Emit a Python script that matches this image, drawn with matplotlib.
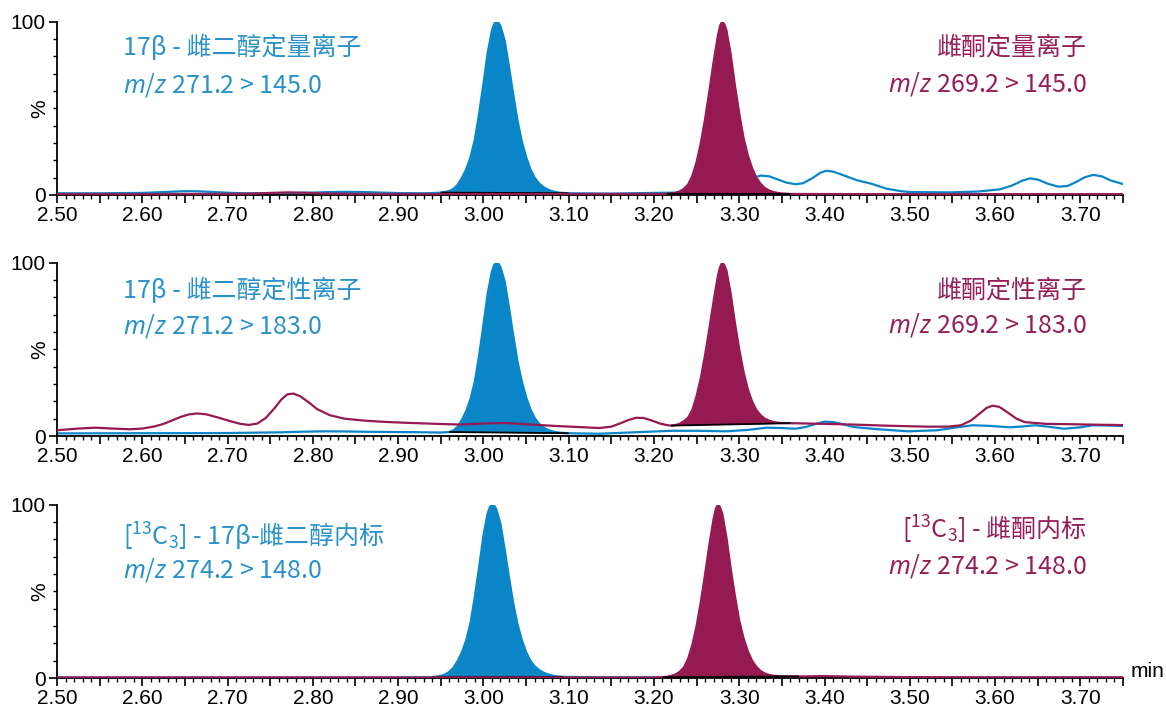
import numpy as np
import matplotlib
matplotlib.use('Agg')
import matplotlib.pyplot as plt
from matplotlib.ticker import MultipleLocator, FixedLocator, FuncFormatter

plt.rcParams['font.family'] = ['Liberation Sans', 'DejaVu Sans']
plt.rcParams['mathtext.fontset'] = 'custom'
plt.rcParams['mathtext.rm'] = 'Noto Sans CJK SC'
plt.rcParams['mathtext.it'] = 'Noto Sans:italic'
plt.rcParams['mathtext.bf'] = 'Noto Sans CJK SC:bold'

BLUE = '#0a86c8'
MAROON = '#961a52'
BLUE_TXT = '#2a92c8'
MAROON_TXT = '#951f58'

# ---------------- Panel 1: quantifier ions ----------------
p1_blue_t = [2.50, 2.55, 2.60, 2.63, 2.645, 2.655, 2.667, 2.68, 2.70, 2.72, 2.75, 2.77, 2.80, 2.82, 2.84,
             2.86, 2.88, 2.90, 2.93, 2.945, 2.950, 2.955, 2.960, 2.965, 2.970, 2.975, 2.980, 2.985, 2.990,
             2.995, 3.000, 3.005, 3.010, 3.0125, 3.015, 3.0175, 3.020, 3.025, 3.030, 3.035, 3.040, 3.045,
             3.050, 3.055, 3.060, 3.065, 3.070, 3.075, 3.080, 3.085, 3.090, 3.100, 3.15, 3.20, 3.23, 3.26,
             3.29, 3.31, 3.325, 3.335, 3.345, 3.355, 3.366, 3.375, 3.385, 3.395, 3.402, 3.41, 3.42, 3.438,
             3.455, 3.473, 3.49, 3.50, 3.547, 3.58, 3.606, 3.62, 3.632, 3.641, 3.65, 3.662, 3.674, 3.685,
             3.695, 3.705, 3.715, 3.725, 3.735, 3.75]
p1_blue_y = [1.0, 1.0, 1.2, 1.8, 2.1, 2.2, 2.1, 1.8, 1.3, 1.0, 1.0, 1.1, 1.4, 1.7, 1.8,
             1.7, 1.4, 1.1, 1.0, 1.2, 1.4, 1.7, 2.3, 3.5, 6.0, 10.0, 15.0, 22.0, 32.0,
             47.0, 64.0, 82.0, 95.0, 98.5, 100.0, 99.5, 97.5, 89.0, 74.0, 58.0, 43.0, 31.0,
             22.0, 15.0, 10.0, 6.8, 4.7, 3.2, 2.3, 1.7, 1.3, 1.0, 0.8, 1.2, 1.4, 2.5,
             5.0, 9.0, 11.2, 10.8, 9.0, 7.2, 6.2, 6.8, 9.5, 12.8, 14.0, 13.5, 11.8, 8.5,
             6.5, 3.6, 2.2, 1.7, 1.5, 2.0, 3.3, 5.5, 8.3, 9.6, 8.9, 6.5, 4.8, 5.2,
             7.5, 10.2, 11.6, 10.8, 8.5, 6.3]
p1_maroon_t = [2.50, 2.60, 2.70, 2.73, 2.75, 2.77, 2.79, 2.81, 2.85, 2.95, 3.05, 3.15, 3.20, 3.215,
               3.220, 3.225, 3.230, 3.235, 3.240, 3.245, 3.250, 3.255, 3.260, 3.265, 3.270, 3.275,
               3.2775, 3.280, 3.2825, 3.285, 3.290, 3.295, 3.300, 3.305, 3.310, 3.315, 3.320, 3.325,
               3.330, 3.335, 3.340, 3.345, 3.350, 3.360, 3.45, 3.60, 3.75]
p1_maroon_y = [0.5, 0.5, 0.6, 0.8, 1.2, 1.5, 1.3, 0.9, 0.6, 0.5, 0.5, 0.6, 0.6, 0.7,
               0.9, 1.2, 2.0, 3.5, 6.0, 11.0, 19.0, 30.0, 44.0, 60.0, 77.0, 92.0,
               97.5, 100.0, 98.5, 95.0, 81.0, 63.0, 47.0, 33.0, 23.0, 15.5, 10.0, 6.5,
               4.0, 2.6, 1.7, 1.2, 0.9, 0.6, 0.5, 0.5, 0.5]
p1_blue_window = [2.950, 3.100]
p1_maroon_window = [3.215, 3.360]

# ---------------- Panel 2: qualifier ions ----------------
p2_blue_t = [2.50, 2.60, 2.70, 2.76, 2.79, 2.815, 2.84, 2.87, 2.92, 2.95, 2.960, 2.965, 2.970, 2.975,
             2.980, 2.985, 2.990, 2.995, 3.000, 3.005, 3.010, 3.0125, 3.015, 3.0175, 3.020, 3.025,
             3.030, 3.035, 3.040, 3.045, 3.050, 3.055, 3.060, 3.065, 3.070, 3.075, 3.080, 3.085, 3.090,
             3.10, 3.136, 3.18, 3.221, 3.25, 3.285, 3.31, 3.332, 3.35, 3.366, 3.378, 3.39, 3.40, 3.41,
             3.42, 3.434, 3.46, 3.498, 3.532, 3.555, 3.574, 3.595, 3.617, 3.632, 3.647, 3.665, 3.681,
             3.70, 3.715, 3.735, 3.75]
p2_blue_y = [1.5, 1.6, 1.7, 2.1, 2.5, 2.7, 2.6, 2.4, 2.2, 2.0, 2.3, 3.2, 5.5, 9.5,
             14.5, 21.5, 31.5, 46.5, 64.0, 82.0, 95.0, 98.5, 100.0, 99.5, 97.5, 89.0,
             74.0, 58.0, 43.0, 31.5, 22.5, 15.5, 10.5, 7.2, 5.1, 3.6, 2.8, 2.2, 1.9,
             1.6, 1.3, 2.2, 3.0, 3.0, 2.7, 3.5, 4.8, 4.6, 4.2, 5.2, 7.0, 8.3, 8.0,
             7.0, 5.2, 4.0, 2.7, 3.3, 5.0, 6.2, 5.8, 5.0, 5.5, 6.2, 5.2, 4.2,
             5.0, 6.2, 6.0, 5.8]
p2_maroon_t = [2.50, 2.525, 2.545, 2.565, 2.585, 2.60, 2.615, 2.625, 2.635, 2.645, 2.655, 2.665, 2.675,
               2.69, 2.705, 2.715, 2.725, 2.735, 2.745, 2.755, 2.763, 2.77, 2.777, 2.785, 2.795, 2.805,
               2.82, 2.837, 2.86, 2.882, 2.91, 2.94, 2.972, 3.00, 3.026, 3.05, 3.084, 3.11, 3.136, 3.15,
               3.16, 3.17, 3.179, 3.188, 3.197, 3.207, 3.215,
               3.220, 3.225, 3.230, 3.235, 3.240, 3.245, 3.250, 3.255, 3.260, 3.265, 3.270, 3.275,
               3.2775, 3.280, 3.2825, 3.285, 3.290, 3.295, 3.300, 3.305, 3.310, 3.315, 3.320, 3.325,
               3.330, 3.335, 3.340, 3.345, 3.350, 3.36, 3.38, 3.40, 3.434, 3.47, 3.519, 3.545, 3.56,
               3.572, 3.582, 3.59, 3.597, 3.605, 3.615, 3.625, 3.635, 3.66, 3.689, 3.72, 3.75]
p2_maroon_y = [3.3, 4.3, 4.8, 4.3, 3.9, 4.3, 5.6, 7.0, 9.0, 11.0, 12.5, 13.0, 12.5,
               10.5, 8.3, 7.0, 6.4, 7.2, 10.5, 16.0, 21.0, 24.0, 24.5, 23.0, 19.5, 15.5,
               12.0, 10.0, 8.9, 8.2, 7.6, 7.1, 6.6, 7.2, 7.5, 6.8, 5.8, 5.2, 4.6, 5.4,
               7.2, 9.2, 10.5, 10.4, 9.0, 7.2, 6.3,
               6.0, 6.3, 7.0, 8.5, 10.5, 15.0, 23.0, 33.5, 47.0, 62.0, 78.0, 92.5,
               97.5, 100.0, 98.5, 95.5, 82.0, 65.0, 50.0, 37.0, 27.0, 20.0, 15.0, 12.0,
               10.0, 8.8, 8.1, 7.7, 7.5, 7.4, 7.2, 7.0, 6.6, 6.0, 5.4, 5.4, 6.2,
               9.0, 13.0, 16.2, 17.5, 16.8, 13.5, 10.0, 8.0, 7.0, 6.8, 6.5, 6.3]
p2_blue_window = [2.960, 3.100]
p2_maroon_window = [3.220, 3.360]

# ---------------- Panel 3: internal standards ----------------
p3_blue_t = [2.50, 2.70, 2.90, 2.935, 2.940, 2.945, 2.950, 2.955, 2.960, 2.965, 2.970, 2.975, 2.980,
             2.985, 2.990, 2.995, 3.000, 3.005, 3.0075, 3.010, 3.0125, 3.015, 3.020, 3.025, 3.030,
             3.035, 3.040, 3.045, 3.050, 3.055, 3.060, 3.065, 3.070, 3.075, 3.080, 3.085, 3.095, 3.15,
             3.30, 3.50, 3.75]
p3_blue_y = [0.3, 0.3, 0.3, 0.4, 0.5, 0.8, 1.2, 2.0, 3.5, 6.0, 10.0, 15.0, 22.0,
             32.0, 47.0, 64.0, 82.0, 95.0, 98.5, 100.0, 99.5, 97.5, 89.0, 74.0, 58.0,
             43.0, 31.0, 22.0, 15.0, 10.0, 6.8, 4.7, 3.2, 2.2, 1.5, 1.0, 0.6, 0.4,
             0.3, 0.3, 0.3]
p3_maroon_t = [2.50, 2.80, 3.00, 3.20, 3.210, 3.215, 3.220, 3.225, 3.230, 3.235, 3.240, 3.245, 3.250,
               3.255, 3.260, 3.265, 3.270, 3.2725, 3.275, 3.2775, 3.280, 3.285, 3.290, 3.295, 3.300,
               3.305, 3.310, 3.315, 3.320, 3.325, 3.330, 3.335, 3.340, 3.350, 3.37, 3.40, 3.43, 3.50,
               3.60, 3.75]
p3_maroon_y = [0.3, 0.3, 0.3, 0.3, 0.5, 0.7, 1.2, 2.0, 3.5, 6.0, 11.0, 19.0, 30.0,
               44.0, 60.0, 77.0, 92.0, 97.5, 100.0, 98.5, 95.0, 81.0, 63.0, 47.0, 33.0,
               23.0, 15.5, 10.0, 6.5, 4.0, 2.6, 1.8, 1.3, 1.0, 0.9, 1.1, 0.8, 0.5,
               0.4, 0.4]
p3_blue_window = [2.940, 3.095]
p3_maroon_window = [3.210, 3.370]

# ---------------- Labels ----------------
left_titles = ['17β - 雌二醇定量离子', '17β - 雌二醇定性离子', '[$^{13}$C$_{3}$] - 17β-雌二醇内标']
left_mz = ['$m/z$ 271.2 > 145.0', '$m/z$ 271.2 > 183.0', '$m/z$ 274.2 > 148.0']
right_titles = ['雌酮定量离子', '雌酮定性离子', '[$^{13}$C$_{3}$] - 雌酮内标']
right_mz = ['$m/z$ 269.2 > 145.0', '$m/z$ 269.2 > 183.0', '$m/z$ 274.2 > 148.0']
x_range = [2.50, 3.75]
y_range = [0, 100]

panels = [
    dict(bt=p1_blue_t, by=p1_blue_y, mt=p1_maroon_t, my=p1_maroon_y,
         bw=p1_blue_window, mw=p1_maroon_window),
    dict(bt=p2_blue_t, by=p2_blue_y, mt=p2_maroon_t, my=p2_maroon_y,
         bw=p2_blue_window, mw=p2_maroon_window),
    dict(bt=p3_blue_t, by=p3_blue_y, mt=p3_maroon_t, my=p3_maroon_y,
         bw=p3_blue_window, mw=p3_maroon_window),
]

W, H = 1166, 711
fig = plt.figure(figsize=(W / 100, H / 100), dpi=100)
ax_left = 57 / W
ax_w = (1123 - 57) / W
ax_h = 173.3 / H
bottoms_px = [195, 436, 678]
left_text_y = [(0.848, 0.635), (0.838, 0.636), (0.817, 0.624)]
right_text_y = [(0.852, 0.640), (0.840, 0.638), (0.855, 0.647)]

CJK = ['Noto Sans CJK SC', 'DejaVu Sans']


def draw_peak(ax, t, y, window, color, z):
    t = np.asarray(t)
    y = np.asarray(y)
    w0, w1 = window
    b0 = np.interp(w0, t, y)
    b1 = np.interp(w1, t, y)
    mask = (t >= w0 - 1e-9) & (t <= w1 + 1e-9)
    xs = t[mask]
    ys = y[mask]
    base = np.interp(xs, [w0, w1], [b0, b1])
    ax.fill_between(xs, base, ys, color=color, lw=0, zorder=z)
    ax.plot([w0, w1], [b0, b1], color='black', lw=1.3, zorder=z + 0.2,
            solid_capstyle='butt')


def xfmt(v, pos):
    k = int(round(v * 100))
    return f'{v:.2f}' if k % 10 == 0 else ''


for i, p in enumerate(panels):
    bottom = 1 - bottoms_px[i] / H
    ax = fig.add_axes([ax_left, bottom, ax_w, ax_h])
    ax.plot(p['bt'], p['by'], color=BLUE, lw=1.6, zorder=2, solid_joinstyle='round')
    draw_peak(ax, p['bt'], p['by'], p['bw'], BLUE, 3)
    ax.plot(p['mt'], p['my'], color=MAROON, lw=1.6, zorder=4, solid_joinstyle='round')
    draw_peak(ax, p['mt'], p['my'], p['mw'], MAROON, 5)

    ax.set_xlim(*x_range)
    ax.set_ylim(*y_range)
    for s in ['top', 'right']:
        ax.spines[s].set_visible(False)
    for s in ['left', 'bottom']:
        ax.spines[s].set_linewidth(1.3)
    ax.xaxis.set_major_locator(MultipleLocator(0.05))
    ax.xaxis.set_minor_locator(MultipleLocator(0.01))
    ax.xaxis.set_major_formatter(FuncFormatter(xfmt))
    ax.yaxis.set_major_locator(FixedLocator([0, 100]))
    ax.yaxis.set_minor_locator(MultipleLocator(10))
    ax.yaxis.set_major_formatter(FuncFormatter(lambda v, pos: f'{int(v)}'))
    ax.tick_params(which='major', direction='out', length=6, width=1.2, labelsize=15, pad=2)
    ax.tick_params(which='minor', direction='out', length=3, width=1.0)
    ax.set_ylabel('%', fontsize=15)
    ax.yaxis.set_label_coords(-0.007, 0.5)
    ax.patch.set_alpha(0)

    ly1, ly2 = left_text_y[i]
    ax.text(0.062, ly1, left_titles[i], transform=ax.transAxes, family=CJK, fontsize=18,
            color=BLUE_TXT, ha='left', va='center', zorder=10)
    ax.text(0.062, ly2, left_mz[i], transform=ax.transAxes, family=CJK, fontsize=18,
            color=BLUE_TXT, ha='left', va='center', zorder=10)
    ry1, ry2 = right_text_y[i]
    ax.text(0.966, ry1, right_titles[i], transform=ax.transAxes, family=CJK, fontsize=18,
            color=MAROON_TXT, ha='right', va='center', zorder=10)
    ax.text(0.966, ry2, right_mz[i], transform=ax.transAxes, family=CJK, fontsize=18,
            color=MAROON_TXT, ha='right', va='center', zorder=10)

    if i == 2:
        ax.text(1.007, 0.035, 'min', transform=ax.transAxes, fontsize=15,
                ha='left', va='center')

fig.savefig('out.png', dpi=100)
